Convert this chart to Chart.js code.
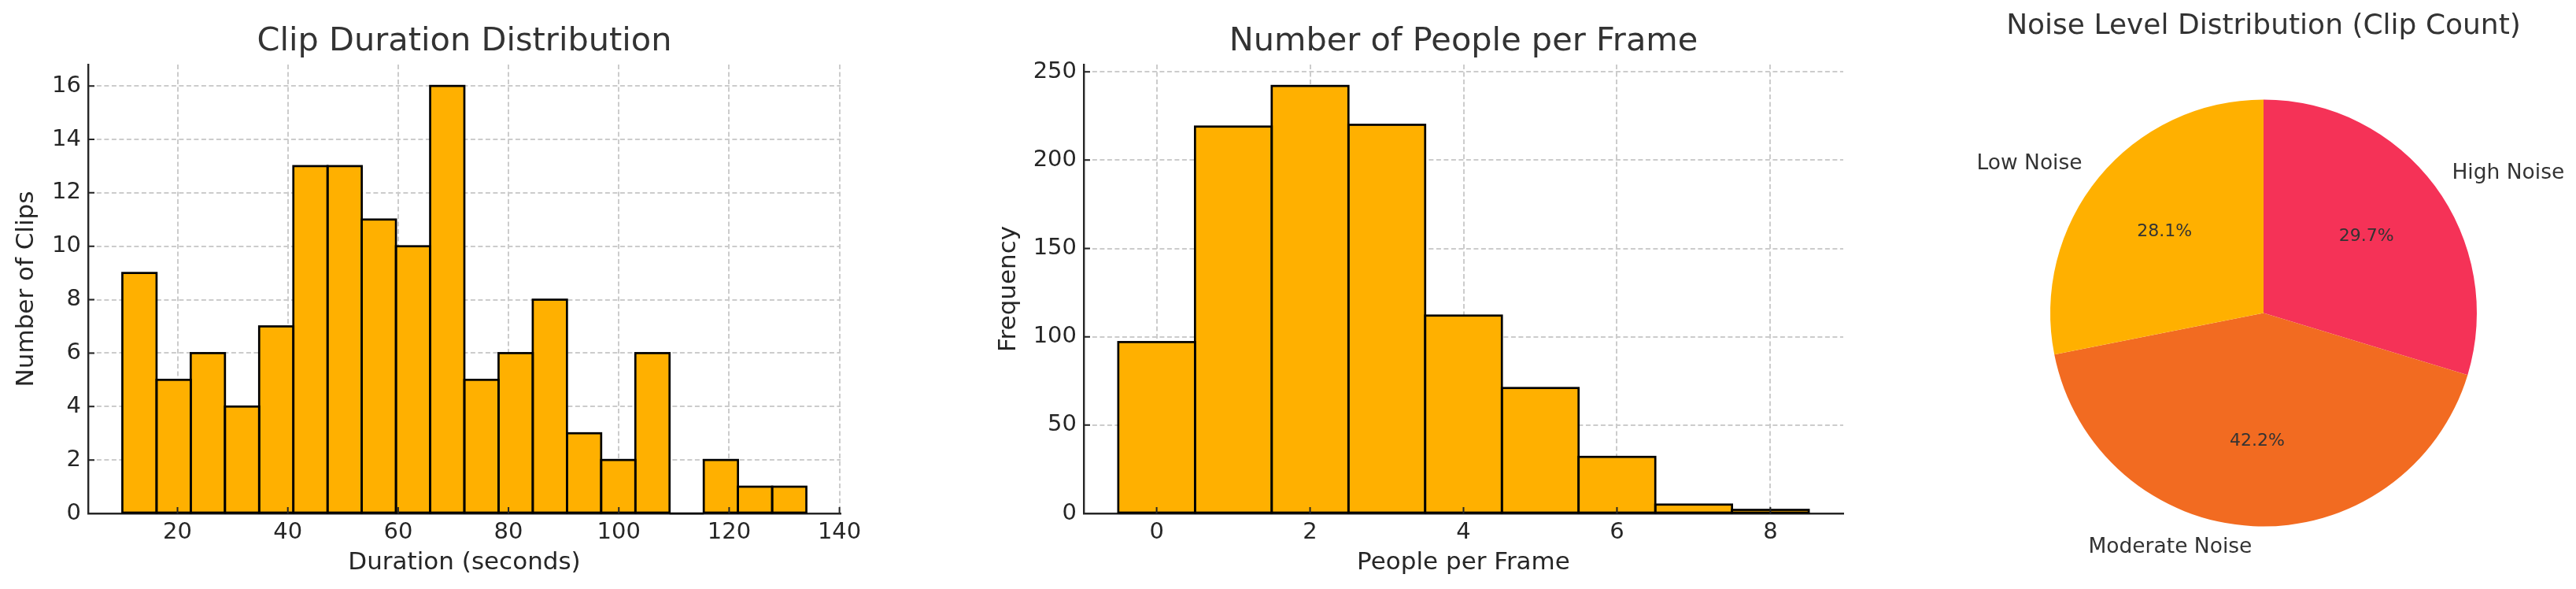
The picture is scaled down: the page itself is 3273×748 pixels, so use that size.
<!DOCTYPE html>
<html>
<head>
<meta charset="utf-8">
<title>Clips overview</title>
<script src="https://cdn.jsdelivr.net/npm/chart.js@4.4.1/dist/chart.umd.min.js"></script>
<style>
    html, body { margin: 0; padding: 0; background: #ffffff; }
    body { width: 3273px; height: 748px; position: relative; overflow: hidden; }
    canvas { position: absolute; top: 0; }
    #duration-chart { left: 0; }
    #people-chart { left: 1200px; }
    #noise-chart { left: 2400px; }
</style>
</head>
<body>
<canvas id="duration-chart" width="1110" height="748"></canvas>
<canvas id="people-chart" width="1200" height="748"></canvas>
<canvas id="noise-chart" width="873" height="748"></canvas>

<script>
// --- DADOS ---
const durationBinEdges = [10, 16.2, 22.4, 28.6, 34.8, 41, 47.2, 53.4, 59.6, 65.8, 72, 78.2, 84.4, 90.6, 96.8, 103, 109.2, 115.4, 121.6, 127.8, 134];
const durationCounts = [9, 5, 6, 4, 7, 13, 13, 11, 10, 16, 5, 6, 8, 3, 2, 6, 0, 2, 1, 1];
const durationTicksX = [20, 40, 60, 80, 100, 120, 140];
const durationTicksY = [0, 2, 4, 6, 8, 10, 12, 14, 16];

const peopleValues = [0, 1, 2, 3, 4, 5, 6, 7, 8];
const peopleFrequency = [97, 219, 242, 220, 112, 71, 32, 5, 2];
const peopleTicksX = [0, 2, 4, 6, 8];
const peopleTicksY = [0, 50, 100, 150, 200, 250];

// ordem no sentido horário a partir do topo (como o matplotlib com startangle=90)
const noiseLevels = ['High Noise', 'Moderate Noise', 'Low Noise'];
const noiseClipCounts = [38, 54, 36];

// --- ESTILO ---
const FONT = "'DejaVu Sans', sans-serif";
const BAR_COLOR = '#FFB000';
const NOISE_COLORS = ['#F53257', '#F26B21', '#FFB000'];
const TEXT_DARK = '#262626';
const TITLE_COLOR = '#333333';
const GRID_COLOR = '#cccccc';

Chart.defaults.font.family = FONT;
Chart.defaults.color = TEXT_DARK;

// --- PLUGINS AUXILIARES ---

// título centralizado sobre a área do gráfico (sem maxWidth, para não espremer o texto)
const plotTitle = {
    id: 'plotTitle',
    afterDraw(chart, args, opts) {
        const { ctx, chartArea } = chart;
        ctx.save();
        ctx.font = `${opts.size}px ${FONT}`;
        ctx.fillStyle = opts.color;
        ctx.textAlign = 'center';
        ctx.textBaseline = 'middle';
        ctx.fillText(opts.text, (chartArea.left + chartArea.right) / 2, opts.y);
        ctx.restore();
    }
};

// contorno das barras centrado na borda, igual ao edgecolor do matplotlib
const barEdges = {
    id: 'barEdges',
    afterDatasetsDraw(chart, args, opts) {
        const { ctx } = chart;
        ctx.save();
        ctx.strokeStyle = opts.color;
        ctx.lineWidth = opts.width;
        chart.getDatasetMeta(0).data.forEach(bar => {
            const { x, y, base, width } = bar.getProps(['x', 'y', 'base', 'width'], true);
            ctx.strokeRect(x - width / 2, Math.min(y, base), width, Math.abs(base - y));
        });
        ctx.restore();
    }
};

// marcas dos ticks para dentro da área
const inwardTicks = {
    id: 'inwardTicks',
    afterDraw(chart, args, opts) {
        const { ctx, chartArea, scales } = chart;
        ctx.save();
        ctx.strokeStyle = opts.color;
        ctx.lineWidth = opts.width;
        ctx.beginPath();
        scales.x.ticks.forEach((t, i) => {
            const px = scales.x.getPixelForTick(i);
            ctx.moveTo(px, chartArea.bottom);
            ctx.lineTo(px, chartArea.bottom - opts.length);
        });
        scales.y.ticks.forEach((t, i) => {
            const py = scales.y.getPixelForTick(i);
            ctx.moveTo(chartArea.left, py);
            ctx.lineTo(chartArea.left + opts.length, py);
        });
        ctx.stroke();
        ctx.restore();
    }
};

// rótulos e percentuais da pizza (1.1r fora, 0.6r dentro)
const pieLabels = {
    id: 'pieLabels',
    afterDatasetsDraw(chart) {
        const { ctx } = chart;
        const values = chart.data.datasets[0].data;
        const total = values.reduce((a, b) => a + b, 0);
        ctx.save();
        ctx.fillStyle = TITLE_COLOR;
        ctx.textBaseline = 'middle';
        chart.getDatasetMeta(0).data.forEach((arc, i) => {
            const { x, y, startAngle, endAngle, outerRadius } = arc.getProps(['x', 'y', 'startAngle', 'endAngle', 'outerRadius'], true);
            const mid = (startAngle + endAngle) / 2;
            const cos = Math.cos(mid), sin = Math.sin(mid);

            ctx.font = `26.5px ${FONT}`;
            ctx.textAlign = cos > 0 ? 'left' : 'right';
            ctx.fillText(chart.data.labels[i], x + cos * outerRadius * 1.1, y + sin * outerRadius * 1.1);

            ctx.font = `22px ${FONT}`;
            ctx.textAlign = 'center';
            ctx.fillText(`${(values[i] / total * 100).toFixed(1)}%`, x + cos * outerRadius * 0.6, y + sin * outerRadius * 0.6);
        });
        ctx.restore();
    }
};

// --- OPÇÕES COMUNS DOS EIXOS ---
const gridOpts = { color: GRID_COLOR, lineWidth: 2, drawTicks: false, offset: false };
const borderOpts = { color: TEXT_DARK, width: 2.4, dash: [6, 3.5] };

function histogramAxes({ xMin, xMax, yMax, ticksX, ticksY, xTitle, yTitle, yWidth, yTitlePad }) {
    return {
        x: {
            type: 'linear', min: xMin, max: xMax, offset: false, z: 1,
            grid: gridOpts, border: borderOpts,
            afterBuildTicks: axis => { axis.ticks = ticksX.map(value => ({ value })); },
            afterFit: scale => { scale.height = 96; },
            ticks: { font: { size: 29 }, color: TEXT_DARK, padding: 7, maxRotation: 0, autoSkip: false },
            title: { display: true, text: xTitle, font: { size: 31 }, color: TEXT_DARK, padding: { top: 0, bottom: 14 } }
        },
        y: {
            min: 0, max: yMax, z: 1,
            grid: gridOpts, border: borderOpts,
            afterBuildTicks: axis => { axis.ticks = ticksY.map(value => ({ value })); },
            afterFit: scale => { scale.width = yWidth; },
            ticks: { font: { size: 29 }, color: TEXT_DARK, padding: 9 },
            title: { display: true, text: yTitle, font: { size: 31 }, color: TEXT_DARK, padding: { top: yTitlePad, bottom: 0 } }
        }
    };
}

function renderHistogram(canvasId, { centers, counts, title, padRight, axes }) {
    return new Chart(document.getElementById(canvasId), {
        type: 'bar',
        data: {
            datasets: [{
                data: centers.map((c, i) => ({ x: c, y: counts[i] })),
                backgroundColor: BAR_COLOR,
                borderWidth: 0,
                barPercentage: 1,
                categoryPercentage: 1
            }]
        },
        options: {
            responsive: false,
            animation: false,
            layout: { padding: { top: 82, right: padRight, left: 0, bottom: 0 } },
            scales: histogramAxes(axes),
            plugins: {
                legend: { display: false },
                tooltip: { enabled: false },
                plotTitle: { text: title, size: 41.5, color: TITLE_COLOR, y: 53.4 },
                barEdges: { color: '#000000', width: 2.7 },
                inwardTicks: { color: TEXT_DARK, width: 2, length: 8 }
            }
        },
        plugins: [barEdges, plotTitle, inwardTicks]
    });
}

// --- GRÁFICO 1: DURAÇÃO DOS CLIPES ---
const durationCenters = durationCounts.map((_, i) => (durationBinEdges[i] + durationBinEdges[i + 1]) / 2);
renderHistogram('duration-chart', {
    centers: durationCenters,
    counts: durationCounts,
    title: 'Clip Duration Distribution',
    padRight: 42,
    axes: {
        xMin: 3.8, xMax: 140.2, yMax: 16.8,
        ticksX: durationTicksX, ticksY: durationTicksY,
        xTitle: 'Duration (seconds)', yTitle: 'Number of Clips',
        yWidth: 112, yTitlePad: 15
    }
});

// --- GRÁFICO 2: PESSOAS POR FRAME ---
renderHistogram('people-chart', {
    centers: peopleValues,
    counts: peopleFrequency,
    title: 'Number of People per Frame',
    padRight: 58,
    axes: {
        xMin: -0.95, xMax: 8.95, yMax: 254.1,
        ticksX: peopleTicksX, ticksY: peopleTicksY,
        xTitle: 'People per Frame', yTitle: 'Frequency',
        yWidth: 177, yTitlePad: 63
    }
});

// --- GRÁFICO 3: NÍVEL DE RUÍDO ---
new Chart(document.getElementById('noise-chart'), {
    type: 'pie',
    data: {
        labels: noiseLevels,
        datasets: [{
            data: noiseClipCounts,
            backgroundColor: NOISE_COLORS,
            borderWidth: 0
        }]
    },
    options: {
        responsive: false,
        animation: false,
        layout: { padding: { left: 205, right: 126, top: 126, bottom: 79 } },
        plugins: {
            legend: { display: false },
            tooltip: { enabled: false },
            plotTitle: { text: 'Noise Level Distribution (Clip Count)', size: 36, color: TITLE_COLOR, y: 33.4 }
        }
    },
    plugins: [pieLabels, plotTitle]
});
</script>
</body>
</html>
